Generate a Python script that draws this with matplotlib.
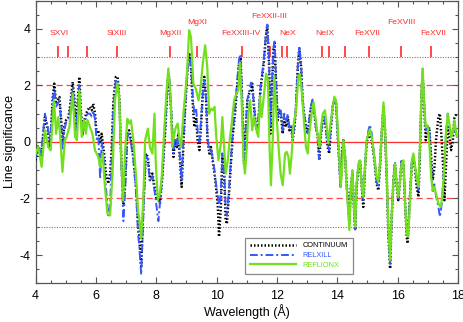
import matplotlib

matplotlib.use("Agg")

import matplotlib.pyplot as plt

plt.rcParams["font.family"] = ["Liberation Sans", "DejaVu Sans"]
plt.rcParams["axes.unicode_minus"] = False

# wavelength grid (Angstrom) shared by the continuum and relxill traces
wl = [
    4.0, 4.09, 4.18, 4.31, 4.39, 4.48, 4.57, 4.62, 4.68, 4.73, 4.79, 4.84, 4.9, 4.95,
    5.01, 5.09, 5.14, 5.23, 5.29, 5.34, 5.4, 5.45, 5.5, 5.56, 5.64, 5.72, 5.8, 5.86,
    5.91, 5.97, 6.02, 6.08, 6.14, 6.19, 6.27, 6.33, 6.41, 6.47, 6.52, 6.58, 6.66, 6.72,
    6.78, 6.83, 6.91, 6.96, 7.04, 7.1, 7.16, 7.24, 7.33, 7.4, 7.43, 7.5, 7.57, 7.65,
    7.72, 7.79, 7.87, 7.94, 8.01, 8.07, 8.12, 8.2, 8.29, 8.38, 8.42, 8.49, 8.57, 8.62,
    8.68, 8.73, 8.79, 8.84, 8.9, 8.97, 9.04, 9.1, 9.15, 9.21, 9.26, 9.32, 9.37, 9.43,
    9.48, 9.54, 9.59, 9.65, 9.7, 9.76, 9.81, 9.87, 9.93, 9.98, 10.04, 10.08, 10.14,
    10.19, 10.25, 10.3, 10.34, 10.41, 10.48, 10.54, 10.61, 10.68, 10.74, 10.79, 10.83,
    10.91, 10.97, 11.02, 11.08, 11.14, 11.18, 11.24, 11.29, 11.35, 11.4, 11.46, 11.52,
    11.57, 11.63, 11.68, 11.74, 11.78, 11.82, 11.88, 11.92, 11.97, 12.02, 12.08, 12.13,
    12.19, 12.24, 12.3, 12.36, 12.41, 12.47, 12.52, 12.58, 12.63, 12.69, 12.74, 12.8,
    12.85, 12.91, 12.96, 13.02, 13.07, 13.13, 13.18, 13.23, 13.29, 13.35, 13.4, 13.46,
    13.52, 13.57, 13.63, 13.68, 13.73, 13.78, 13.85, 13.9, 13.96, 14.01, 14.07, 14.11,
    14.16, 14.2, 14.26, 14.31, 14.37, 14.4, 14.45, 14.5, 14.55, 14.59, 14.64, 14.7,
    14.75, 14.81, 14.86, 14.92, 14.97, 15.03, 15.08, 15.14, 15.23, 15.3, 15.36, 15.42,
    15.47, 15.53, 15.58, 15.64, 15.69, 15.75, 15.8, 15.86, 15.91, 15.97, 16.02, 16.08,
    16.13, 16.19, 16.24, 16.3, 16.33, 16.39, 16.47, 16.52, 16.58, 16.63, 16.69, 16.74,
    16.8, 16.83, 16.87, 16.93, 16.99, 17.05, 17.11, 17.16, 17.22, 17.27, 17.35, 17.4,
    17.46, 17.52, 17.55, 17.6, 17.66, 17.71, 17.77, 17.83, 17.88, 17.96,
]

continuum = [
    -0.65, -0.18, -0.53, 0.88, 0.53, -0.18, 1.59, 2.06, 1.35, 1.47, 1.59, 0.88, 0.06, 0.53,
    0.77, 0.88, 1.24, 2.12, 1.47, 0.53, 1.47, 2.3, 1.12, 0.29, 0.88, 1.12, 1.24, 1.12,
    1.35, 1.0, 0.29, 0.41, -0.06, 0.29, -0.41, -1.12, -1.47, -1.12, -0.29, 1.47, 2.3, 2.3,
    1.47, -0.29, -2.18, -1.59, 0.29, 0.41, 0.06, -0.53, -1.59, -3.0, -3.24, -4.4, -2.3, -0.41,
    -0.53, -1.35, -1.12, -1.59, -2.06, -1.94, -2.18, -1.24, 0.29, 2.18, 2.3, 1.12, -0.53, 0.06,
    -0.18, 0.29, -0.77, -1.59, -0.06, 1.47, 2.65, 3.1, 2.65, 1.35, 0.53, 0.88, 0.06, -0.29,
    0.53, 1.71, 2.3, 1.59, 0.06, -0.41, -0.18, -0.65, -1.12, -1.59, -2.3, -3.35, -2.3,
    -0.53, -1.12, -2.77, -2.9, -1.83, -0.65, 0.29, 1.0, 1.94, 2.77, 3.0, 1.94,
    -0.77, 0.53, 1.47, 1.71, 1.83, 2.06, 1.24, 0.65, 0.29, 1.0, 1.94, 2.41,
    2.88, 3.71, 4.15, 2.65, 0.29, 1.47, 3.24, 3.5, 2.06, 0.77, 1.12, 1.0,
    0.29, 0.88, 0.53, 0.88, 0.41, 0.53, 0.06, 0.53, 1.24, 2.65, 3.3, 2.65,
    1.47, 0.88, 0.53, 0.29, 0.77, 1.24, 1.47, 1.12, 0.53, 0.18, -0.65, 0.29,
    0.77, 0.88, 0.41, -0.18, -0.41, 0.41, 1.24, 1.47, 1.35, 0.29, -0.88, -1.59,
    -0.29, 0.06, -0.6, -1.5, -2.3, -2.77, -1.59, -1.12, -2.3, -3.12, -1.59, -0.88,
    -0.65, -1.59, -2.3, -0.88, -0.06, 0.29, 0.18, 0.06, -0.65, -1.47, -1.71, -0.77,
    0.29, 1.24, 0.41, -1.35, -3.24, -4.48, -2.77, -1.35, -0.77, -1.59, -2.06, -1.35,
    -0.65, -0.77, -2.06, -3.36, -3.59, -2.3, -0.77, -0.53, -1.0, -1.59, -1.94, -0.29,
    1.94, 2.3, 1.47, 0.06, 0.53, 0.41, -0.53, -1.35, -0.88, 0.06, 0.88, 1.0,
    0.06, -1.12, -2.06, -0.88, 0.53, 0.29, -0.29, 0.06, 0.88, 1.0,
]

relxill = [
    -0.55, -0.1, -0.45, 1.0, 0.6, -0.1, 1.5, 1.9, 1.25, 1.35, 1.45, 0.8, -0.3, 0.4,
    0.7, 0.8, 1.1, 1.9, 1.3, 0.4, 1.3, 2.0, 1.0, 0.2, 0.75, 1.0, 1.0, 0.9,
    1.1, 0.8, 0.1, 0.2, -1.3, 0.0, -0.7, -1.6, -2.6, -2.3, -0.6, 1.3, 2.2, 2.2,
    1.3, -0.5, -2.8, -1.9, 0.2, 0.3, 0.0, -0.6, -1.8, -3.3, -3.6, -4.7, -2.6, -0.5,
    -0.6, -1.4, -1.2, -1.7, -2.3, -2.8, -2.2, -1.2, 0.4, 2.2, 2.4, 1.2, -0.4, 0.1,
    -0.1, 0.3, -0.6, -1.4, 0.1, 1.5, 2.6, 3.0, 2.7, 1.6, 1.0, 1.2, 0.4, 0.0,
    0.7, 1.7, 2.2, 1.5, 0.1, -0.3, -0.2, -0.6, -1.0, -1.5, -1.9, -2.3, -1.8,
    -0.4, -1.0, -2.4, -2.6, -1.7, -0.5, 0.4, 1.2, 2.1, 2.9, 3.1, 2.0,
    -0.6, 0.6, 1.5, 1.8, 2.1, 2.0, 1.3, 0.7, 0.4, 1.1, 2.0, 2.5,
    3.0, 3.8, 4.15, 2.8, 0.5, 1.6, 3.3, 3.55, 2.2, 0.9, 1.2, 1.1,
    0.4, 1.0, 0.7, 1.0, 0.5, 0.6, 0.1, 0.6, 1.3, 2.7, 3.4, 2.7,
    1.5, 0.9, 0.6, 0.3, 0.8, 1.3, 1.5, 1.1, 0.5, 0.2, -0.6, 0.3,
    0.8, 0.9, 0.4, -0.1, -0.3, 0.5, 1.3, 1.5, 1.3, 0.3, -0.9, -1.6,
    -0.3, 0.0, -0.6, -1.6, -2.5, -2.9, -1.6, -1.1, -2.3, -3.1, -1.5, -0.8,
    -0.6, -1.5, -2.1, -0.8, 0.0, 0.4, 0.6, 0.3, -0.6, -1.4, -1.6, -0.7,
    0.3, 1.3, 0.4, -1.3, -3.2, -4.3, -2.7, -1.3, -0.7, -1.5, -2.0, -1.3,
    -0.6, -0.7, -2.0, -3.2, -3.35, -2.2, -0.7, -0.5, -0.9, -1.4, -1.7, -0.2,
    2.0, 2.4, 1.5, 0.4, 0.6, 0.5, -0.8, -1.8, -1.5, -1.9, -2.3, -2.65,
    -2.2, -1.2, -0.7, 0.3, 1.0, 0.6, 0.3, 0.3, 0.5, 0.2,
]

reflionx_wl = [
    4.0, 4.09, 4.2, 4.31, 4.42, 4.5, 4.61, 4.68, 4.75, 4.81, 4.89, 4.97, 5.03, 5.12,
    5.23, 5.31, 5.37, 5.45, 5.53, 5.6, 5.67, 5.72, 5.8, 5.88, 5.97, 6.08, 6.14, 6.22,
    6.3, 6.38, 6.47, 6.55, 6.63, 6.71, 6.77, 6.85, 6.9, 6.97, 7.04, 7.1, 7.16, 7.24,
    7.33, 7.4, 7.43, 7.5, 7.57, 7.63, 7.72, 7.79, 7.87, 7.94, 7.98, 8.05, 8.12, 8.18,
    8.27, 8.35, 8.4, 8.47, 8.53, 8.6, 8.65, 8.71, 8.77, 8.82, 8.9, 9.01, 9.09, 9.15,
    9.23, 9.31, 9.4, 9.47, 9.54, 9.62, 9.69, 9.75, 9.81, 9.87, 9.93, 9.98, 10.06,
    10.14, 10.19, 10.25, 10.3, 10.37, 10.42, 10.5, 10.58, 10.65, 10.72, 10.77, 10.83,
    10.89, 10.94, 11.0, 11.05, 11.11, 11.18, 11.24, 11.3, 11.38, 11.44, 11.49, 11.55,
    11.64, 11.7, 11.75, 11.8, 11.86, 11.91, 11.97, 12.06, 12.12, 12.19, 12.27, 12.32,
    12.38, 12.43, 12.49, 12.54, 12.63, 12.71, 12.76, 12.83, 12.9, 12.96, 13.02, 13.07,
    13.15, 13.21, 13.27, 13.34, 13.41, 13.46, 13.52, 13.59, 13.65, 13.7, 13.76, 13.85,
    13.9, 13.96, 14.01, 14.07, 14.11, 14.16, 14.2, 14.26, 14.31, 14.37, 14.4, 14.45,
    14.5, 14.55, 14.59, 14.64, 14.7, 14.75, 14.81, 14.86, 14.92, 14.97, 15.03, 15.08,
    15.14, 15.23, 15.3, 15.36, 15.42, 15.47, 15.53, 15.58, 15.64, 15.69, 15.75, 15.8,
    15.86, 15.91, 15.97, 16.02, 16.08, 16.13, 16.19, 16.24, 16.3, 16.35, 16.41, 16.47,
    16.52, 16.58, 16.63, 16.69, 16.74, 16.8, 16.83, 16.87, 16.93, 16.99, 17.05, 17.11,
    17.16, 17.22, 17.27, 17.35, 17.43, 17.49, 17.55, 17.6, 17.66, 17.71, 17.77, 17.83,
    17.88, 17.96,
]

reflionx = [
    -0.41, -0.18, -0.88, 0.41, -0.18, -0.3, 1.47, 0.29, 0.88, 0.29, -1.06, 0.06, 0.18, 0.53,
    1.71, 0.18, 0.06, 1.83, 0.18, 0.77, 0.29, 0.77, 0.53, 0.3, -0.3, -0.53, -0.88, -0.41,
    -1.6, -2.53, -2.6, -1.1, 1.47, 2.06, 1.6, -0.88, -2.06, -0.29, 0.82, 0.65, 0.77, 0.06,
    -1.24, -2.5, -2.65, -3.4, -2.06, 0.06, 0.47, -0.18, -0.41, 1.0, -0.65, -2.06, -1.83, -1.24,
    0.53, 1.94, 2.6, 1.7, -0.18, 0.3, 0.53, 0.65, 0.06, -0.18, 1.0, 2.3, 3.95, 3.7,
    2.06, 1.88, 1.47, 1.94, 2.77, 3.42, 2.65, 1.0, 1.18, 1.12, 1.24, 0.29, -0.65,
    -0.06, 0.88, -0.18, -1.12, -0.65, -0.06, 0.65, 1.47, 1.7, 1.83, 2.8, 1.47,
    -0.65, -1.12, -0.18, 1.0, 1.47, 0.41, 0.88, 0.53, 0.18, 1.6, 0.88, 1.47,
    2.41, 2.2, -0.06, -1.53, 0.06, 2.3, 1.2, -0.3, -1.12, -1.53, -0.41, -0.35,
    -0.53, -1.12, -0.41, 0.53, 1.12, 2.3, 2.4, 1.7, 0.65, -0.18, -0.41, 0.29,
    1.0, 1.4, 0.88, 0.3, -0.18, 0.53, 1.0, 1.12, 0.53, -0.06, 0.53, 1.24,
    1.6, 1.47, 0.53, -0.65, -1.59, -0.88, 0.06, -0.5, -1.59, -2.6, -3.12, -1.59,
    -1.0, -2.3, -3.0, -1.47, -0.77, -0.65, -1.59, -1.94, -0.88, 0.06, 0.29, 0.45,
    0.18, -0.53, -1.24, -1.41, -0.65, 0.29, 1.4, 0.53, -1.24, -3.0, -4.18, -2.65,
    -1.35, -0.77, -1.47, -1.94, -1.35, -0.77, -0.65, -2.06, -3.24, -3.36, -2.06, -0.65,
    -0.41, -0.88, -1.24, -1.59, -0.06, 2.06, 2.6, 1.47, 0.53, 0.59, -0.06, -1.24,
    -1.71, -1.59, -1.83, -2.18, -2.3, -1.83, -0.88, 0.29, 1.0, 0.65, 0.18, 0.3,
    0.77, 0.18,
]

# atomic line markers (short red ticks above the +3 sigma line)
line_wl = [4.75, 5.08, 5.71, 6.69, 8.45, 9.36, 10.85, 11.77, 12.18, 12.32,
           13.48, 13.73, 14.26, 15.05, 16.11, 17.10]
ion_names = ["SXVI", "SiXIII", "MgXII", "MgXI", "FeXXIII-IV", "FeXXII-III",
             "NeX", "NeIX", "FeXVII", "FeXVIII", "FeXVII"]
ion_x = [4.78, 6.69, 8.48, 9.36, 10.81, 11.74, 12.35, 13.59, 14.98, 16.13, 17.19]
ion_y = [3.83, 3.83, 3.83, 4.21, 3.83, 4.42, 3.83, 3.83, 3.83, 4.21, 3.83]

RED = "#ff2a2a"

fig = plt.figure(figsize=(4.64, 3.22), dpi=100)
ax = fig.add_axes([0.0767, 0.1202, 0.9104, 0.878])

ax.axhline(0, color=RED, lw=0.9, zorder=1)
for s in (2, -2):
    ax.axhline(s, color=RED, lw=0.9, ls=(0, (5, 3)), alpha=0.85, zorder=1)
for s in (3, -3):
    ax.axhline(s, color="#ff4040", lw=0.8, ls=(0, (1, 1.3)), zorder=1)

ax.vlines(line_wl, 3.0, 3.38, color=RED, lw=1.2, zorder=2)
for name, x, y in zip(ion_names, ion_x, ion_y):
    ax.text(x, y, name, color=RED, fontsize=6.1, ha="center", va="center")

ax.plot(wl, continuum, color="black", lw=1.8, ls=(0, (0.6, 0.8)),
        label="CONTINUUM", zorder=3)
ax.plot(wl, relxill, color="#3558ff", lw=1.4, ls=(0, (4, 1.5, 1, 1.5)),
        label="RELXILL", zorder=4)
ax.plot(reflionx_wl, reflionx, color="#72e01c", lw=1.6,
        label="REFLIONX", zorder=5)

ax.set_xlim(4, 18)
ax.set_ylim(-5, 5)
ax.set_xticks(range(4, 19, 2))
ax.set_yticks([-4, -2, 0, 2, 4])
ax.set_xticks([x / 2 for x in range(8, 37)], minor=True)
ax.set_yticks([y / 2 for y in range(-10, 11)], minor=True)
ax.tick_params(which="both", direction="in", top=True, right=True,
               color="#555555", width=0.8, labelsize=9)
ax.tick_params(which="major", length=4.3)
ax.tick_params(axis="x", which="major", pad=4.5)
ax.tick_params(which="minor", length=2.3)
for sp in ax.spines.values():
    sp.set_color("#555555")
    sp.set_linewidth(0.9)

ax.set_xlabel("Wavelength (Å)", fontsize=9, labelpad=1.5)
ax.set_ylabel("Line significance", fontsize=9, labelpad=3)

leg = ax.legend(loc="lower left", bbox_to_anchor=(0.49, 0.026), fontsize=5.3,
                handlelength=6.3, handletextpad=0.9, labelspacing=0.35,
                borderpad=0.65, borderaxespad=0.3, fancybox=False, framealpha=1,
                edgecolor="#888888")
leg.get_frame().set_linewidth(0.9)
for txt, col in zip(leg.get_texts(), ["black", "#3558ff", "#72e01c"]):
    txt.set_color(col)

fig.savefig("out.png", dpi=100)
